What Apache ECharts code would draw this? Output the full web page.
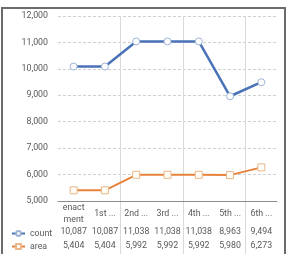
<!DOCTYPE html>
<html><head><meta charset="utf-8">
<script src="https://cdn.jsdelivr.net/npm/echarts@6/dist/echarts.min.js"></script>
<style>html,body{margin:0;padding:0;background:#fff}#c{width:287px;height:254px}</style>
</head><body><div id="c"></div>
<script>
const categories = ['enact\nment', '1st ...', '2nd ...', '3rd ...', '4th ...', '5th ...', '6th ...'];
const countValues = [10087, 10087, 11038, 11038, 11038, 8963, 9494];
const areaValues = [5404, 5404, 5992, 5992, 5992, 5980, 6273];
const yTicks = { min: 5000, max: 12000, interval: 1000 };

const FONT = 'Roboto, "Liberation Sans", sans-serif';
const FS = 8.8;
const TXT = '#595959';
const fmt = v => v.toLocaleString('en-US');
const chart = echarts.init(document.getElementById('c'), null, { renderer: 'canvas' });
const G = { left: 58, right: 10, top: 16, bottom: 53 };
const valueAxis = (values, margin) => ({
  type: 'category', gridIndex: 0, data: categories, position: 'bottom',
  axisLine: { show: false }, axisTick: { show: false }, splitLine: { show: false },
  axisLabel: { interval: 0, margin: margin, verticalAlign: 'middle', color: TXT, fontFamily: FONT, fontSize: FS,
    formatter: (v, i) => fmt(values[i]) }
});
chart.setOption({
  animation: false,
  backgroundColor: '#fff',
  grid: [
    { left: G.left, right: G.right, top: G.top, bottom: G.bottom },
    { left: G.left, right: G.right, top: G.top, bottom: 0 }
  ],
  xAxis: [
    { type: 'category', gridIndex: 0, data: categories, boundaryGap: true,
      axisLine: { lineStyle: { color: '#8c8c8c', width: 1 } }, axisTick: { show: false }, splitLine: { show: false },
      axisLabel: { interval: 0, margin: 12.5, verticalAlign: 'middle', color: TXT, fontFamily: FONT, fontSize: FS, lineHeight: 12 } },
    valueAxis(countValues, 31),
    valueAxis(areaValues, 44.5),
    { type: 'category', gridIndex: 1, data: categories, boundaryGap: true,
      axisLine: { show: false }, axisTick: { show: false }, axisLabel: { show: false },
      splitLine: { show: true, showMinLine: false, showMaxLine: false, lineStyle: { color: '#d9d9d9', width: 1 } } }
  ],
  yAxis: [
    { type: 'value', gridIndex: 0, min: yTicks.min, max: yTicks.max, interval: yTicks.interval,
      axisLine: { show: false }, axisTick: { show: false },
      axisLabel: { margin: 10, color: TXT, fontFamily: FONT, fontSize: FS, formatter: v => fmt(v) },
      splitLine: { lineStyle: { color: '#d0d0d0', type: [3, 2], width: 1 } } },
    { type: 'value', gridIndex: 1, show: false }
  ],
  legend: [
    { data: ['count'], orient: 'vertical', left: 11, top: 229, itemWidth: 13, itemHeight: 6, padding: 0,
      textStyle: { color: TXT, fontFamily: FONT, fontSize: FS } },
    { data: ['area'], orient: 'vertical', left: 11, top: 242, itemWidth: 13, itemHeight: 6, padding: 0,
      textStyle: { color: TXT, fontFamily: FONT, fontSize: FS } }
  ],
  series: [
    { name: 'count', type: 'line', xAxisIndex: 0, yAxisIndex: 0, data: countValues,
      symbol: 'circle', symbolSize: 7,
      lineStyle: { color: '#4a72b8', width: 2.5 },
      itemStyle: { color: '#ffffff', borderColor: '#9fb3d6', borderWidth: 1 } },
    { name: 'area', type: 'line', xAxisIndex: 0, yAxisIndex: 0, data: areaValues,
      symbol: 'rect', symbolSize: 7,
      lineStyle: { color: '#e8823a', width: 2 },
      itemStyle: { color: '#fffdf5', borderColor: '#e8b88a', borderWidth: 1 } }
  ],
  graphic: {
    elements: [
      { type: 'polyline', z: 100, silent: true,
        shape: { points: [[2, 260], [2, 8], [285, 8], [285, 260]] },
        style: { fill: null, stroke: '#6b6b6b', lineWidth: 2 } }
    ]
  }
});
</script></body></html>
